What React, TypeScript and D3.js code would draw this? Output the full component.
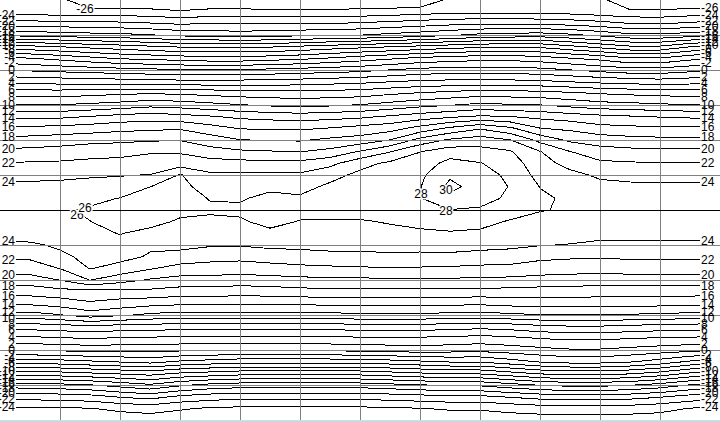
import * as d3 from "d3";
import { useEffect } from "react";

// grid of the field: rows = latitude (90N .. 90S), columns = longitude (0 .. 360)
const lats = [90, 85, 80, 75, 70, 65, 60, 55, 50, 45, 40, 35, 30, 25, 20, 15, 10, 5, 0,
  -5, -10, -15, -20, -25, -30, -35, -40, -45, -50, -55, -60, -65, -70, -75, -80, -85, -90];
const lons = [0, 15, 30, 45, 60, 75, 90, 105, 120, 135, 150, 165, 180, 195, 210, 225, 240,
  255, 270, 285, 300, 315, 330, 345, 360];

const temps = [
  [-25.4, -25.4, -25.4, -27.9, -27.9, -27.9, -27.9, -27.9, -27.9, -27.9, -27.9, -27.9, -27.9, -27.9, -27.9, -25.4, -25.4, -25.4, -25.4, -25.4, -25.4, -27.9, -27.9, -27.9, -27.9],
  [-25.1, -25.1, -25.1, -25.2, -25.2, -25.4, -25.8, -25.4, -25.4, -25.5, -25.5, -25.5, -25.4, -25.2, -24.9, -24.6, -24.5, -24.5, -24.6, -24.8, -25.2, -25.6, -25.6, -25.3, -25.1],
  [-21.2, -21.2, -21.3, -21.4, -21.6, -21.9, -22.3, -22.05, -22.05, -22.1, -22.1, -22.05, -21.8, -21.4, -21.0, -20.6, -20.4, -20.4, -20.5, -20.8, -21.3, -22.05, -22.2, -21.7, -21.2],
  [-16.5, -16.7, -17.0, -17.3, -17.5, -17.9, -18.5, -18.8, -19.0, -18.8, -18.5, -18.2, -18.05, -17.5, -17.0, -16.3, -15.5, -15.2, -15.0, -15.6, -16.5, -17.5, -17.6, -17.0, -16.5],
  [-8.9, -9.5, -10.05, -10.6, -11.1, -11.7, -12.2, -12.2, -12.2, -12.2, -11.7, -11.1, -10.6, -10.05, -9.5, -8.9, -8.4, -8.4, -8.4, -9.5, -10.6, -11.7, -11.7, -10.05, -8.9],
  [-3.5, -3.9, -4.6, -5.4, -6.2, -6.5, -6.9, -7.3, -7.3, -6.9, -6.5, -5.8, -5.0, -4.3, -3.5, -3.1, -2.7, -2.7, -3.1, -3.9, -4.6, -5.8, -5.8, -4.6, -3.5],
  [0.05, -0.3, -0.6, -0.9, -1.2, -1.5, -1.8, -1.8, -1.8, -1.5, -1.2, -0.9, -0.6, 0.05, 0.6, 0.9, 0.9, 0.9, 0.6, 0.05, -0.6, -1.2, -1.2, -0.6, 0.05],
  [3.5, 3.35, 3.2, 3.05, 2.9, 2.75, 2.6, 2.6, 2.6, 2.75, 2.9, 3.2, 3.5, 3.95, 4.4, 4.55, 4.7, 4.55, 4.4, 3.95, 3.5, 3.2, 2.9, 3.2, 3.5],
  [7.1, 7.1, 7.1, 7.4, 7.7, 7.9, 7.7, 7.4, 7.1, 7.0, 6.8, 7.0, 7.1, 7.7, 8.2, 8.7, 9.1, 9.0, 8.8, 8.4, 7.9, 7.6, 7.4, 7.2, 7.1],
  [10.1, 10.1, 10.1, 10.4, 10.8, 11.4, 11.1, 10.6, 10.1, 9.7, 9.4, 9.7, 10.1, 10.7, 11.4, 11.9, 12.5, 12.2, 12.05, 11.4, 10.8, 10.6, 10.3, 10.1, 10.1],
  [13.6, 13.6, 13.6, 14.1, 14.7, 15.0, 14.7, 14.2, 13.6, 13.3, 13.1, 13.3, 13.6, 14.3, 15.0, 15.7, 16.3, 16.05, 15.5, 15.0, 14.5, 14.2, 13.9, 13.7, 13.6],
  [16.3, 16.5, 16.7, 17.0, 17.4, 17.6, 17.8, 16.8, 15.9, 15.8, 15.7, 16.1, 16.7, 17.2, 18.7, 20.4, 21.8, 20.4, 18.05, 17.6, 16.7, 16.5, 16.3, 16.3, 16.3],
  [18.55, 18.8, 19.1, 19.4, 19.6, 19.8, 19.9, 19.0, 18.05, 17.9, 17.8, 18.4, 18.8, 20.05, 22.7, 24.3, 25.0, 24.05, 21.4, 19.6, 19.1, 18.7, 18.55, 18.55, 18.55],
  [20.5, 20.6, 20.8, 21.2, 21.3, 21.8, 21.8, 20.74, 20.34, 20.14, 19.95, 20.57, 22.2, 23.9, 25.95, 27.1, 26.74, 26.2, 24.09, 22.05, 20.8, 20.6, 20.5, 20.5, 20.5],
  [22.1, 22.2, 22.3, 22.5, 22.7, 22.9, 23.0, 22.9, 22.73, 22.5, 22.6, 23.46, 25.3, 26.4, 27.0, 28.6, 28.1, 27.05, 24.7, 23.4, 22.4, 22.2, 22.1, 22.1, 22.1],
  [23.3, 23.4, 23.5, 23.8, 23.9, 24.05, 26.15, 24.33, 24.36, 24.45, 24.33, 25.29, 26.5, 26.9, 27.6, 29.7, 28.8, 27.6, 25.3, 24.5, 23.7, 23.4, 23.3, 23.3, 23.3],
  [24.4, 24.5, 24.6, 24.6, 24.8, 25.98, 26.6, 25.1, 25.07, 25.5, 25.3, 26.4, 27.05, 27.4, 27.9, 30.5, 29.2, 27.9, 25.95, 25.2, 24.5, 24.4, 24.4, 24.4, 24.4],
  [25.0, 25.2, 25.4, 25.6, 26.05, 26.8, 26.9, 25.9, 25.78, 26.6, 26.3, 26.8, 27.2, 27.6, 27.9, 29.46, 28.8, 27.6, 26.3, 25.7, 25.1, 25.0, 25.0, 25.0, 25.0],
  [25.4, 25.6, 25.8, 26.2, 26.6, 27.05, 26.8, 26.3, 26.4, 27.05, 26.6, 26.8, 27.05, 27.4, 27.5, 27.95, 27.73, 27.05, 26.1, 25.8, 25.4, 25.3, 25.3, 25.3, 25.3],
  [25.4, 25.6, 25.7, 25.98, 26.5, 26.9, 25.6, 25.55, 25.74, 26.6, 25.9, 25.8, 25.75, 26.2, 26.6, 26.9, 26.66, 25.8, 25.45, 25.5, 25.2, 25.2, 25.2, 25.2, 25.3],
  [24.8, 24.9, 25.0, 25.3, 26.1, 25.2, 25.1, 24.9, 24.94, 25.52, 25.17, 25.15, 25.1, 25.3, 25.6, 25.8, 25.63, 25.0, 24.8, 24.9, 24.6, 24.6, 24.6, 24.6, 24.7],
  [23.6, 23.7, 24.3, 24.9, 25.4, 24.3, 24.6, 24.2, 24.14, 24.45, 24.44, 24.5, 24.5, 24.6, 24.6, 24.8, 24.6, 24.4, 24.1, 23.9, 23.6, 23.6, 23.6, 23.6, 23.6],
  [22.3, 22.3, 23.6, 24.5, 24.6, 23.8, 23.2, 22.76, 22.6, 22.97, 23.28, 23.55, 23.55, 23.7, 23.6, 23.55, 23.3, 23.2, 22.5, 22.3, 22.2, 22.3, 22.35, 22.35, 22.3],
  [21.25, 21.2, 22.05, 24.1, 23.3, 22.2, 21.3, 21.1, 20.96, 21.18, 21.45, 21.6, 21.76, 21.9, 21.8, 21.7, 21.5, 21.4, 21.0, 20.8, 20.8, 21.0, 21.1, 21.1, 21.2],
  [19.07, 19.0, 20.05, 22.05, 20.8, 19.8, 19.3, 19.3, 19.1, 19.27, 19.45, 19.6, 19.6, 19.7, 19.7, 19.7, 19.6, 19.5, 19.3, 19.2, 19.0, 19.0, 19.1, 19.1, 19.1],
  [16.98, 16.9, 17.3, 17.3, 17.3, 17.5, 17.1, 17.1, 16.86, 17.0, 17.3, 17.4, 17.4, 17.5, 17.4, 17.4, 17.3, 17.3, 17.1, 17.0, 16.9, 16.9, 16.9, 16.9, 16.9],
  [14.4, 14.4, 14.9, 15.75, 15.2, 14.7, 14.4, 14.4, 14.4, 14.4, 14.4, 14.5, 14.7, 14.7, 14.7, 14.5, 14.4, 14.7, 14.9, 14.9, 14.9, 14.8, 14.7, 14.5, 14.4],
  [11.2, 11.2, 11.9, 13.0, 12.3, 11.6, 11.2, 11.2, 11.2, 11.2, 11.2, 11.4, 11.6, 11.6, 11.6, 11.4, 11.2, 11.6, 11.9, 11.9, 11.9, 11.8, 11.6, 11.4, 11.2],
  [6.9, 6.9, 7.2, 7.5, 7.2, 7.05, 6.9, 6.9, 6.9, 6.9, 6.9, 6.9, 7.05, 7.05, 7.05, 6.9, 6.6, 6.9, 7.5, 7.8, 7.8, 7.5, 7.2, 7.05, 6.9],
  [3.5, 3.5, 3.8, 4.05, 3.8, 3.65, 3.5, 3.5, 3.5, 3.5, 3.5, 3.5, 3.65, 3.65, 3.65, 3.5, 3.2, 3.5, 4.05, 4.35, 4.35, 4.05, 3.8, 3.65, 3.5],
  [0.2, 0.2, 0.4, 0.6, 0.6, 0.6, 0.4, 0.2, 0.2, 0.2, 0.2, 0.4, 0.6, 0.8, 1.0, 0.8, 0.6, 1.0, 1.4, 1.8, 1.8, 1.4, 1.0, 0.6, 0.2],
  [-5.3, -5.05, -4.8, -4.3, -3.8, -3.3, -4.3, -4.8, -5.3, -5.3, -5.3, -5.3, -5.3, -4.8, -4.3, -3.8, -3.8, -2.8, -1.8, -1.3, -1.3, -1.8, -2.8, -4.3, -5.3],
  [-11.2, -10.95, -10.7, -10.2, -9.7, -9.2, -10.2, -10.7, -11.2, -11.2, -11.2, -11.2, -11.2, -10.7, -10.2, -9.7, -9.7, -8.7, -7.7, -7.2, -7.2, -7.7, -8.7, -10.2, -11.2],
  [-17.0, -16.8, -16.55, -16.1, -15.2, -14.3, -15.65, -16.55, -17.0, -17.0, -17.0, -17.0, -17.0, -16.55, -16.1, -15.65, -15.65, -14.75, -13.85, -13.4, -13.4, -13.85, -14.75, -16.1, -17.0],
  [-21.3, -21.15, -21.0, -20.7, -19.8, -19.2, -20.4, -21.0, -21.3, -21.3, -21.3, -21.3, -21.3, -21.0, -20.7, -20.4, -20.4, -19.8, -19.2, -18.9, -18.9, -19.2, -19.8, -20.7, -21.3],
  [-24.4, -24.3, -24.2, -24.05, -23.6, -23.2, -23.8, -24.2, -24.4, -24.4, -24.4, -24.4, -24.4, -24.2, -24.05, -23.8, -23.8, -23.4, -23.0, -22.8, -22.8, -23.0, -23.4, -24.05, -24.4],
  [-25, -25, -25, -25, -25, -25, -25, -25, -25, -25, -25, -25, -25, -25, -25, -25, -25, -25, -25, -25, -25, -25, -25, -25, -25],
];

const levels = [-26, -24, -22, -20, -18, -16, -14, -12, -10, -8, -6, -4, -2, 0, 2, 4, 6, 8,
  10, 12, 14, 16, 18, 20, 22, 24, 26, 28, 30];

const meridians = [30, 60, 90, 120, 150, 180, 210, 240, 270, 300, 330];
const parallels = [75, 60, 45, 30, 15, -15, -30, -45, -60, -75];

// labels written inside the field
const innerLabels = [
  { lon: 42.5, lat: 86.1, text: "-26" },
  { lon: 38.5, lat: -2.3, text: "26" },
  { lon: 42.5, lat: 0.9, text: "26" },
  { lon: 210.5, lat: 6.9, text: "28" },
  { lon: 223, lat: -0.4, text: "28" },
  { lon: 223, lat: 8.6, text: "30" },
];

const W = 720;
const H = 421;
const font = "'Liberation Sans', Arial, sans-serif";

function edgeCrossings(col: number) {
  const out: { level: number; lat: number }[] = [];
  levels.forEach((L) => {
    for (let i = 0; i < lats.length - 1; i++) {
      const v0 = temps[i][col];
      const v1 = temps[i + 1][col];
      if ((v0 - L) * (v1 - L) < 0) {
        out.push({ level: L, lat: lats[i] + ((L - v0) / (v1 - v0)) * (lats[i + 1] - lats[i]) });
      }
    }
  });
  return out;
}

export default function App() {
  useEffect(() => {
    document.body.style.margin = "0";
  }, []);

  const x = d3.scaleLinear([0, 360], [0, 720]);
  const y = d3.scaleLinear([90, -90], [0, 420]);

  // pad the grid by one cell on every side so the outer ring of each band falls outside the clip
  const nx = lons.length + 2;
  const ny = lats.length + 2;
  const values: number[] = [];
  for (let j = -1; j <= lats.length; j++) {
    const row = temps[Math.min(Math.max(j, 0), lats.length - 1)];
    values.push(row[0], ...row, row[row.length - 1]);
  }
  const gx = d3.scaleLinear([1.5, lons.length + 0.5], [x(lons[0]), x(lons[lons.length - 1])]);
  const gy = d3.scaleLinear([1.5, lats.length + 0.5], [y(lats[0]), y(lats[lats.length - 1])]);
  const proj = d3.geoTransform({
    point(px: number, py: number) {
      (this as any).stream.point(gx(px), gy(py));
    },
  });
  const path = d3.geoPath(proj);
  const bands = d3.contours().size([nx, ny]).thresholds(levels)(values);

  const left = edgeCrossings(0);
  const right = edgeCrossings(lons.length - 1);

  return (
    <svg width={W} height={H} style={{ position: "absolute", left: 0, top: 0, background: "#fff" }}>
      <defs>
        <clipPath id="field">
          <rect x={16} y={0} width={684} height={420} />
        </clipPath>
      </defs>
      <rect width={W} height={H} fill="#fff" />
      <g clipPath="url(#field)" fill="none" stroke="#000" strokeWidth={1} shapeRendering="crispEdges">
        {bands.map((b, i) => (
          <path key={i} d={path(b as any) || ""} />
        ))}
      </g>
      <g stroke="#808080" strokeWidth={1} shapeRendering="crispEdges">
        {meridians.map((m) => (
          <line key={m} x1={x(m) + 0.5} x2={x(m) + 0.5} y1={0} y2={420} />
        ))}
        {parallels.map((p) => (
          <line key={p} x1={0} x2={W} y1={y(p) + 0.5} y2={y(p) + 0.5} />
        ))}
      </g>
      <line x1={0} x2={W} y1={y(0) + 0.5} y2={y(0) + 0.5} stroke="#000" shapeRendering="crispEdges" />
      <rect x={0} y={420} width={W} height={1} fill="#80ffff" />
      <g fontFamily={font} fontSize={12} fill="#000">
        {left.map((d, i) => (
          <text key={"l" + i} x={15} y={y(d.lat)} textAnchor="end" dominantBaseline="central">
            {d.level}
          </text>
        ))}
        {right.map((d, i) => (
          <text key={"r" + i} x={701} y={y(d.lat)} textAnchor="start" dominantBaseline="central">
            {d.level}
          </text>
        ))}
        {innerLabels.map((d, i) => (
          <text key={"c" + i} x={x(d.lon)} y={y(d.lat)} textAnchor="middle" dominantBaseline="central"
            stroke="#fff" strokeWidth={3} paintOrder="stroke">
            {d.text}
          </text>
        ))}
      </g>
    </svg>
  );
}
